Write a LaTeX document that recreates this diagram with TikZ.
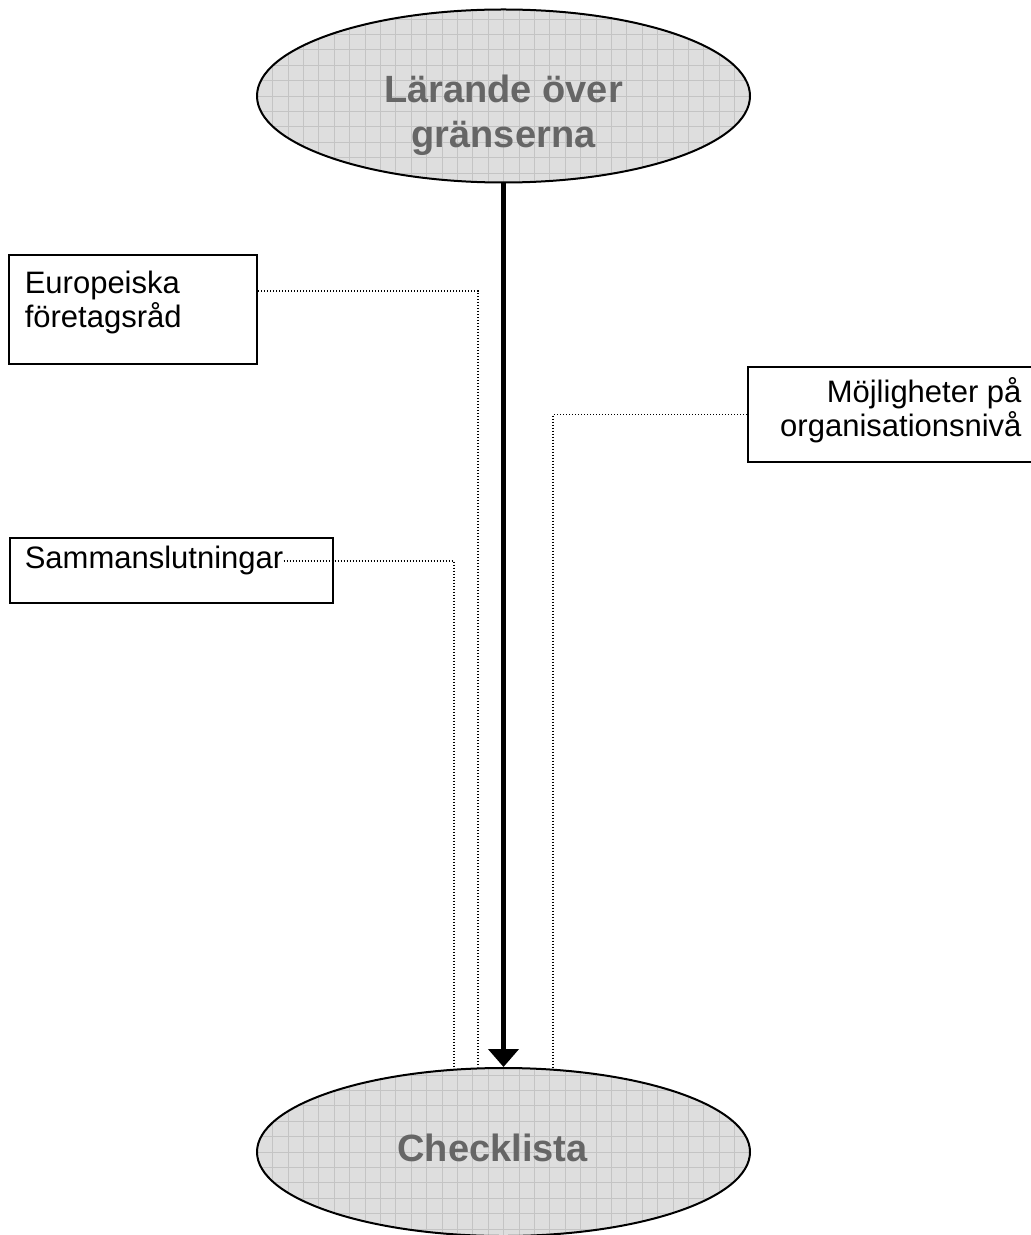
\documentclass[tikz,border=0pt]{standalone}
\usepackage{fontspec}
\setmainfont{Liberation Sans}
\usepackage{tikz}
\usetikzlibrary{arrows.meta,calc,positioning,shapes.geometric}
\definecolor{ovalfill}{RGB}{222,222,222}
\definecolor{ovalgrid}{RGB}{196,196,196}
\definecolor{ovalink}{RGB}{102,102,102}

\begin{document}
\begin{tikzpicture}[
  x=0.5pt, y=-0.5pt,
  oval/.style={ellipse, draw, line width=1pt, fill=ovalfill, minimum width=246.5pt, inner sep=0pt,
    path picture={\draw[ovalgrid, line width=0.4pt, step=7.7pt] (path picture bounding box.south west) grid (path picture bounding box.north east);}},
  ovaltext/.style={font=\fontsize{19}{22.5}\selectfont\bfseries, text=ovalink, align=center, inner sep=0pt},
  box/.style={draw, line width=1.1pt, inner sep=0pt},
  boxtext/.style={font=\fontsize{15.5}{17}\selectfont, inner sep=0pt},
  link/.style={line width=0.7pt, dash pattern=on 0.6pt off 0.9pt},
  flow/.style={-{Triangle[length=9pt, width=15pt]}, line width=2.5pt}
]
\useasboundingbox (0,0) rectangle (1031,1235);
% the two ovals
\node[oval, minimum height=86.5pt] (larande) at (503.5,96) {};
\node[ovaltext, anchor=north] (larandetext) at ($(larande.center)+(0,-21)$) {Lärande över\\gränserna};
\node[oval, minimum height=84pt] (check) at (503.5,1152) {};
\node[ovaltext, anchor=base] (checktext) at (492.5,1161) {Checklista};
% the three boxes
\node[box, minimum width=124pt, minimum height=54.5pt] (euro) at (133,309.5) {};
\node[boxtext, anchor=north west, align=left] (eurotext) at ($(euro.north west)+(16.5,17)$) {Europeiska\\företagsråd};
\node[box, minimum width=161.5pt, minimum height=32.5pt] (samm) at (171.5,570.5) {};
\node[boxtext, anchor=base west] (sammtext) at ($(samm.north west)+(15.5,32)$) {Sammanslutningar};
\node[box, minimum width=146pt, minimum height=47.5pt] (moj) at (894,414.5) {};
\node[boxtext, anchor=north east, align=right] (mojtext) at ($(moj.north west)+(275,11)$) {Möjligheter på\\organisationsnivå};
% connectors
\draw[flow] (larande) -- (check);
\draw[link] ($(euro.north east)+(0,37)$) -| ($(check.north)+(-25.5,0)$);
\draw[link] (sammtext.east) -| ($(check.north)+(-49.5,0)$);
\draw[link] (moj.west) -| ($(check.north)+(49.5,0)$);
\end{tikzpicture}
\end{document}
